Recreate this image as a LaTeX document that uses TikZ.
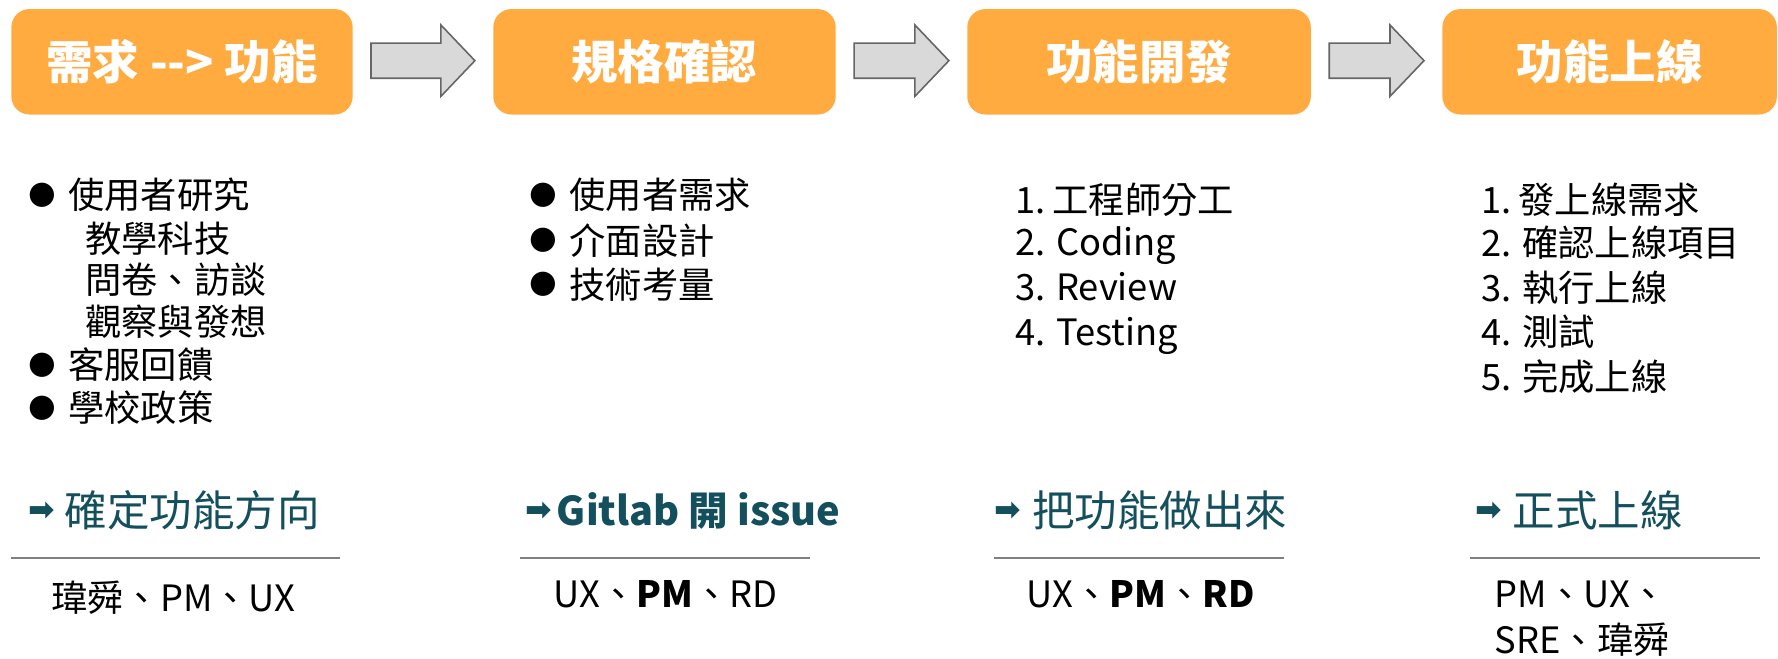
\documentclass[tikz,border=0pt]{standalone}
\usepackage{fontspec}
\setmainfont{Noto Sans CJK TC}
\newfontfamily\djv{DejaVu Sans}
\usetikzlibrary{calc}
\definecolor{boxorange}{HTML}{FFAB40}
\definecolor{arrgray}{HTML}{D9D9D9}
\definecolor{arredge}{HTML}{666666}
\definecolor{teal}{HTML}{134F5C}
\definecolor{rulegray}{HTML}{7F7F7F}
\newcommand\blockarrow[2]{%
  \draw[blockarr] let \p1=($(#1.east)+(16pt,1pt)$), \p2=($(#2.west)+(-16pt,1pt)$) in
    (\x1,\y1+15.5pt) -- (\x2-30pt,\y1+15.5pt) -- (\x2-30pt,\y1+31.5pt) -- (\x2,\y1)
    -- (\x2-30pt,\y1-31.5pt) -- (\x2-30pt,\y1-15.5pt) -- (\x1,\y1-15.5pt) -- cycle;}
\begin{document}
\begin{tikzpicture}[x=1pt,y=-1pt,
  titlebox/.style={fill=boxorange, rounded corners=16pt, minimum height=93pt, inner sep=0pt,
    text=white, font=\fontsize{41}{44}\selectfont\bfseries},
  blockarr/.style={fill=arrgray, draw=arredge, line width=1.4pt, line join=miter},
  item/.style={anchor=base west, inner sep=0pt, font=\fontsize{32}{36}\selectfont},
  bul/.style={anchor=center, inner sep=0pt, font=\djv\fontsize{28}{30}\selectfont},
  head/.style={anchor=base west, inner sep=0pt, text=teal, font=\fontsize{37.5}{40}\selectfont},
  harr/.style={anchor=center, inner sep=0pt, text=teal, font=\djv\bfseries\fontsize{28}{30}\selectfont},
  team/.style={anchor=base west, inner sep=0pt, font=\fontsize{32}{36}\selectfont},
  sep/.style={draw=rulegray, line width=2pt}]
\useasboundingbox (0,0) rectangle (1568,581);
% title boxes
\node[titlebox, minimum width=301pt] (b1) at (160.5,54.5) {需求 -{}-{}> 功能};
\node[titlebox, minimum width=302pt] (b2) at (586,54.5) {規格確認};
\node[titlebox, minimum width=303pt] (b3) at (1004.5,54.5) {功能開發};
\node[titlebox, minimum width=295pt] (b4) at (1419.5,54.5) {功能上線};
\blockarrow{b1}{b2}
\blockarrow{b2}{b3}
\blockarrow{b3}{b4}
% column 1
\node[bul] (c1b1) at (37.5,172) {●};
\node[item] (c1t1) at (60,184) {使用者研究};
\node[item] (c1s1) at (75,223) {教學科技};
\node[item] (c1s2) at (75,259) {問卷、訪談};
\node[item] (c1s3) at (75,296) {觀察與發想};
\node[bul] (c1b2) at (37.5,322) {●};
\node[item] (c1t2) at (60,334) {客服回饋};
\node[bul] (c1b3) at (37.5,360) {●};
\node[item] (c1t3) at (60,372) {學校政策};
% column 2
\node[bul] (c2b1) at (479,172) {●};
\node[item] (c2t1) at (502,184) {使用者需求};
\node[bul] (c2b2) at (479,212) {●};
\node[item] (c2t2) at (502,224) {介面設計};
\node[bul] (c2b3) at (479,251) {●};
\node[item] (c2t3) at (502,263) {技術考量};
% column 3
\node[item] (c3n1) at (895,188) {1.};
\node[item] (c3t1) at (928,188) {工程師分工};
\node[item] (c3t2) at (895,225) {2. Coding};
\node[item] (c3t3) at (895,265) {3. Review};
\node[item] (c3t4) at (895,305) {4. Testing};
% column 4
\node[item] (c4n1) at (1306,188) {1.};
\node[item] (c4t1) at (1339,188) {發上線需求};
\node[item] (c4t2) at (1306,226) {2. 確認上線項目};
\node[item] (c4t3) at (1306,266) {3. 執行上線};
\node[item] (c4t4) at (1306,305) {4. 測試};
\node[item] (c4t5) at (1306,344) {5. 完成上線};
% headings
\node[harr] (h1a) at (36.5,451) {➡};
\node[head] (h1) at (57,464) {確定功能方向};
\node[harr] (h2a) at (475,451) {➡};
\node[head, font=\fontsize{35}{38}\selectfont\bfseries] (h2) at (491,463) {Gitlab 開 issue};
\node[harr] (h3a) at (889,451) {➡};
\node[head] (h3) at (910,464) {把功能做出來};
\node[harr] (h4a) at (1313,451) {➡};
\node[head] (h4) at (1334,464) {正式上線};
% rules
\coordinate (r1a) at (10,492); \coordinate (r1b) at (300,492);
\coordinate (r2a) at (459,492); \coordinate (r2b) at (714,492);
\coordinate (r3a) at (877,492); \coordinate (r3b) at (1132,492);
\coordinate (r4a) at (1296,492); \coordinate (r4b) at (1552,492);
\draw[sep] (r1a) -- (r1b);
\draw[sep] (r2a) -- (r2b);
\draw[sep] (r3a) -- (r3b);
\draw[sep] (r4a) -- (r4b);
% teams
\node[team] (t1) at (45,539) {瑋舜、PM、UX};
\node[team] (t2) at (488,536) {UX、\textbf{PM}、RD};
\node[team] (t3) at (905,536) {UX、\textbf{PM}、\textbf{RD}};
\node[team] (t4a) at (1318,536) {PM、UX、};
\node[team] (t4b) at (1318,576) {SRE、瑋舜};
\end{tikzpicture}
\end{document}
